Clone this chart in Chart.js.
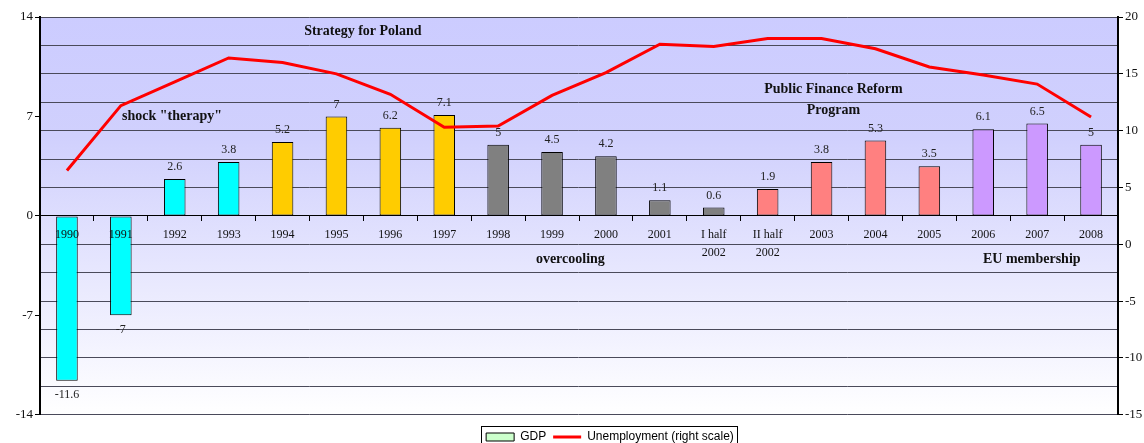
<!DOCTYPE html>
<html>
<head>
  <title>GDP and Unemployment in Poland</title>
  <script src="https://cdn.jsdelivr.net/npm/chart.js"></script>
  <style>
    html, body { margin: 0; padding: 0; background: #fff; }
    #box { width: 1144px; height: 443px; }
  </style>
</head>
<body>
<div id="box">
  <canvas id="gdpChart"></canvas>
</div>

<script>
  // Data
  const categories = ['1990', '1991', '1992', '1993', '1994', '1995', '1996', '1997', '1998', '1999',
    '2000', '2001', ['I half', '2002'], ['II half', '2002'], '2003', '2004', '2005', '2006', '2007', '2008'];
  const gdpValues = [-11.6, -7, 2.6, 3.8, 5.2, 7, 6.2, 7.1, 5, 4.5, 4.2, 1.1, 0.6, 1.9, 3.8, 5.3, 3.5, 6.1, 6.5, 5];
  const unemploymentValues = [6.5, 12.2, 14.3, 16.4, 16.0, 15.0, 13.2, 10.3, 10.4, 13.1,
    15.1, 17.6, 17.4, 18.1, 18.1, 17.2, 15.6, 14.9, 14.1, 11.2];
  const leftTicks = [-14, -7, 0, 7, 14];
  const rightTicks = [-15, -10, -5, 0, 5, 10, 15, 20];

  // Period notes (text, category position, left axis value)
  const noteTexts = ['Strategy for Poland', 'shock "therapy"', 'Public Finance Reform', 'Program', 'overcooling', 'EU membership'];
  const noteX = [5.49, 1.95, 14.22, 14.22, 9.34, 17.9];
  const noteY = [13.0, 7.0, 8.9, 7.4, -3.04, -3.04];

  // bar colours by period
  const barColors = ['#00FFFF', '#00FFFF', '#00FFFF', '#00FFFF',
    '#FFCC00', '#FFCC00', '#FFCC00', '#FFCC00',
    '#808080', '#808080', '#808080', '#808080', '#808080',
    '#FF8080', '#FF8080', '#FF8080', '#FF8080',
    '#CC99FF', '#CC99FF', '#CC99FF'];

  const serif = '"Liberation Serif", "Times New Roman", serif';

  // gradient behind the plot
  const backgroundPlugin = {
    id: 'plotBackground',
    afterLayout(chart) {
      // the legend sits a little right of centre in the original
      chart.legend.left += 38;
      chart.legend.right += 38;
    },
    beforeDraw(chart) {
      const a = chart.chartArea;
      const ctx = chart.ctx;
      const g = ctx.createLinearGradient(0, a.top, 0, a.bottom);
      g.addColorStop(0, '#CCCCFF');
      g.addColorStop(0.3, '#D0D0FD');
      g.addColorStop(1, '#FFFFFF');
      ctx.save();
      ctx.fillStyle = g;
      ctx.fillRect(a.left, a.top, a.right - a.left, a.bottom - a.top);
      ctx.restore();
    }
  };

  // value labels on the bars and the period notes
  const labelPlugin = {
    id: 'barLabels',
    afterDatasetsDraw(chart) {
      const ctx = chart.ctx;
      const meta = chart.getDatasetMeta(1); // the GDP bars
      ctx.save();
      ctx.font = '12px ' + serif;
      ctx.fillStyle = '#222';
      ctx.textAlign = 'center';
      ctx.textBaseline = 'middle';
      meta.data.forEach((bar, i) => {
        const v = gdpValues[i];
        const y = v >= 0 ? bar.y - 12 : bar.y + 14;
        ctx.fillText(String(v), bar.x, y);
      });

      const xs = chart.scales.x;
      const ys = chart.scales.y;
      ctx.font = 'bold 14px ' + serif;
      ctx.fillStyle = '#111';
      noteTexts.forEach((t, i) => {
        ctx.fillText(t, xs.getPixelForValue(noteX[i]), ys.getPixelForValue(noteY[i]));
      });
      ctx.restore();
    },
    afterDraw(chart) {
      // frame round the legend
      const boxes = chart.legend.legendHitBoxes;
      if (!boxes || !boxes.length) return;
      const first = boxes[0];
      const last = boxes[boxes.length - 1];
      const ctx = chart.ctx;
      ctx.save();
      ctx.strokeStyle = '#000';
      ctx.lineWidth = 1;
      ctx.strokeRect(Math.round(first.left - 5) + 0.5, Math.round(first.top - 5) + 0.5,
        Math.round(last.left + last.width - first.left + 8), 40);
      ctx.restore();
    }
  };

  const config = {
    data: {
      labels: categories,
      datasets: [
        {
          type: 'line',
          label: 'Unemployment (right scale)',
          data: unemploymentValues,
          yAxisID: 'y1',
          borderColor: '#FF0000',
          borderWidth: 3,
          pointRadius: 0,
          fill: false,
          tension: 0,
          order: 0
        },
        {
          type: 'bar',
          label: 'GDP',
          data: gdpValues,
          yAxisID: 'y',
          backgroundColor: barColors,
          borderColor: '#000',
          borderWidth: 1,
          borderSkipped: false,
          barPercentage: 0.4,
          categoryPercentage: 1.0,
          order: 1
        }
      ]
    },
    options: {
      responsive: true,
      maintainAspectRatio: false,
      animation: false,
      layout: { padding: { top: 17, bottom: -10, left: 0, right: 0 } },
      plugins: {
        tooltip: { enabled: false },
        legend: {
          position: 'bottom',
          // empty title used only as a spacer above the items
          title: { display: true, text: '', font: { size: 1 }, padding: { top: 8, bottom: 0 } },
          labels: {
            usePointStyle: true,
            pointStyleWidth: 28,
            boxHeight: 8,
            padding: 7,
            color: '#000',
            font: { family: '"Liberation Sans", Arial, sans-serif', size: 12 },
            generateLabels() {
              return [
                { text: 'GDP', pointStyle: 'rect', fillStyle: '#CCFFCC', strokeStyle: '#000', lineWidth: 1, fontColor: '#000', datasetIndex: 1 },
                { text: 'Unemployment (right scale)', pointStyle: 'line', fillStyle: '#FF0000', strokeStyle: '#FF0000', lineWidth: 3, fontColor: '#000', datasetIndex: 0 }
              ];
            }
          }
        }
      },
      scales: {
        x: {
          type: 'category',
          position: { y: 0 },
          offset: true,
          grid: { display: true, drawOnChartArea: false, offset: true, tickLength: 5, tickColor: '#000' },
          border: { display: true, color: '#000', width: 1 },
          ticks: {
            z: 1,
            autoSkip: false,
            maxRotation: 0,
            padding: 5,
            color: '#111',
            font: { family: serif, size: 12, lineHeight: 1.5 }
          }
        },
        y: {
          position: 'left',
          min: -14,
          max: 14,
          afterFit(scale) { scale.width = 40; },
          afterBuildTicks(scale) { scale.ticks = leftTicks.map(v => ({ value: v })); },
          grid: { drawOnChartArea: false, tickLength: 5, tickColor: '#000' },
          border: { display: true, color: '#000', width: 2 },
          ticks: { color: '#111', padding: 2, font: { family: serif, size: 13 } }
        },
        y1: {
          position: 'right',
          min: -15,
          max: 20,
          afterFit(scale) { scale.width = 26; },
          ticks: {
            stepSize: 2.5,
            color: '#111',
            padding: 2,
            font: { family: serif, size: 13 },
            callback: v => rightTicks.includes(v) ? String(v) : ''
          },
          grid: {
            drawOnChartArea: true,
            color: '#4A4A5A',
            lineWidth: 1,
            tickLength: 5,
            tickColor: c => rightTicks.includes(c.tick.value) ? '#000' : 'rgba(0,0,0,0)'
          },
          border: { display: true, color: '#000', width: 2 }
        }
      }
    },
    plugins: [backgroundPlugin, labelPlugin]
  };

  new Chart(document.getElementById('gdpChart'), config);
</script>
</body>
</html>
